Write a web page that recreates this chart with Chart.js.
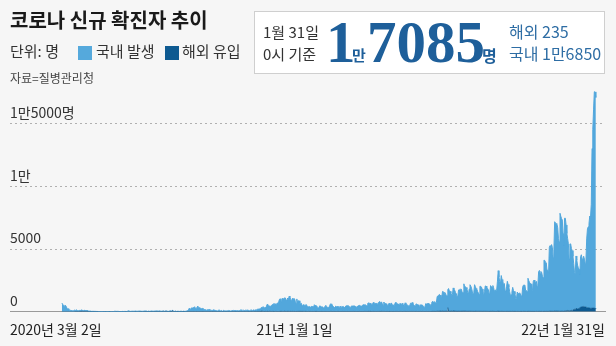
<!DOCTYPE html>
<html><head><meta charset="utf-8">
<script src="https://cdn.jsdelivr.net/npm/chart.js@4.4.0/dist/chart.umd.min.js"></script>
<style>
html,body{margin:0;padding:0;background:#f6f6f6;}
#wrap{position:relative;width:616px;height:346px;overflow:hidden;background:#f6f6f6;font-family:"Noto Sans CJK KR","Noto Sans",sans-serif;}
canvas{position:absolute;left:0;top:0;}
.t{position:absolute;white-space:nowrap;line-height:1;}
.sq{position:absolute;width:14px;height:14px;}
#box{position:absolute;left:254px;top:11px;width:351px;height:63px;box-sizing:border-box;border:1px solid #cfcfcf;background:#fff;}
.big{font-family:"Liberation Serif","DejaVu Serif",serif;font-weight:bold;color:#1e5f9a;font-size:59px;}
</style></head>
<body><div id="wrap">
<canvas id="c" width="616" height="346"></canvas>
<div class="t" style="left:10px;top:10px;font-size:20px;font-weight:bold;color:#1a1a1a;">코로나 신규 확진자 추이</div>
<div class="t" style="left:10px;top:43px;font-size:15px;color:#333;">단위: 명</div>
<div class="sq" style="left:78px;top:46px;background:#55a9dc;"></div>
<div class="t" style="left:96px;top:43px;font-size:15px;color:#333;">국내 발생</div>
<div class="sq" style="left:165px;top:46px;background:#0e5a91;"></div>
<div class="t" style="left:182px;top:43px;font-size:15px;color:#333;">해외 유입</div>
<div class="t" style="left:10px;top:72px;font-size:12px;color:#444;">자료=질병관리청</div>
<div id="box"></div>
<div class="t" style="left:263px;top:24px;font-size:15px;color:#333;">1월 31일</div>
<div class="t" style="left:263px;top:46px;font-size:15px;color:#333;">0시 기준</div>
<div class="t big" style="left:326px;top:13px;">1</div>
<div class="t" style="left:352px;top:47px;font-size:15px;font-weight:bold;color:#1e5f9a;">만</div>
<div class="t big" style="left:367px;top:13px;">7085</div>
<div class="t" style="left:482px;top:47px;font-size:16px;font-weight:bold;color:#1e5f9a;">명</div>
<div class="t" style="left:509px;top:23px;font-size:16px;color:#2e6da4;">해외 235</div>
<div class="t" style="left:509px;top:45px;font-size:16px;color:#2e6da4;">국내 1만6850</div>
</div>
<script>
// Domestic daily new cases (국내 발생), 2020-03-02 .. 2022-01-31
const d2020_03 = [686,600,516,438,518,483,367,248,131,242,114,110,107,76,74,84,93,140,75,130,80,45,55,70,70,60,100,60,45,80];
const d2020_04 = [65,53,50,60,55,30,30,35,25,15,18,20,15,17,17,14,15,12,3,9,5,8,5,3,6,4,7,5,6,2];
const d2020_05 = [5,2,5,3,1,0,2,10,16,32,33,23,24,26,24,15,9,10,11,29,10,17,19,20,15,16,37,77,55,35,24];
const d2020_06 = [31,33,44,36,35,44,53,34,33,47,41,50,42,27,29,34,31,46,40,53,38,10,35,41,20,25,37,41,24,32];
const d2020_07 = [36,44,52,36,43,24,24,33,39,36,21,11,21,14,15,28,21,21,13,8,14,21,25,13,27,13,9,10,20,9,14];
const d2020_08 = [20,11,15,15,24,14,9,23,28,19,27,47,47,85,155,267,188,235,283,276,315,315,387,258,264,307,434,359,308,283,238];
const d2020_09 = [222,253,189,186,158,152,108,120,144,144,161,126,99,98,91,105,145,109,100,74,59,51,99,110,95,52,73,40,23,101];
const d2020_10 = [67,54,51,52,59,60,100,54,46,60,46,66,84,71,90,36,56,75,57,45,71,105,139,61,46,101,72,78,108,103,113];
const d2020_11 = [101,88,62,101,99,117,71,118,112,72,113,128,162,176,179,193,202,245,293,320,361,302,255,320,363,553,525,486,413,414];
const d2020_12 = [420,493,516,600,566,615,594,574,662,671,673,928,1002,682,848,1054,993,1036,1053,1071,903,837,1059,955,1216,1104,938,787,1014,1029,942];
const d2021_01 = [1001,806,641,985,692,840,838,641,613,638,419,513,537,499,483,560,497,373,361,384,374,324,414,374,413,332,537,469,454,432,336];
const d2021_02 = [290,321,451,436,351,376,357,272,287,426,487,390,355,316,332,440,597,598,534,436,398,316,331,427,384,387,396,332];
const d2021_03 = [332,430,331,406,378,400,327,307,429,456,446,469,444,364,345,346,451,427,443,433,440,396,331,415,411,478,482,470,368,431,491];
const d2021_04 = [533,534,519,536,452,458,643,671,648,649,583,571,524,706,676,651,637,652,510,526,714,773,753,626,753,622,488,744,658,645];
const d2021_05 = [604,587,466,525,650,505,555,682,549,436,492,495,693,724,660,589,602,505,632,623,538,650,566,507,492,682,610,567,511,458,410];
const d2021_06 = [434,657,660,672,719,532,465,430,581,587,547,533,433,379,521,522,525,482,409,342,377,627,588,619,649,610,595,485,569,741];
const d2021_07 = [795,733,765,711,684,712,1167,1227,1275,1324,1262,1063,1111,1549,1551,1486,1410,1400,1196,1215,1454,1776,1576,1581,1438,1251,1320,1823,1625,1653,1481];
const d2021_08 = [1394,1167,1159,1673,1727,1661,1776,1677,1440,1476,2145,1934,1930,1886,1769,1512,1325,1760,2102,2008,1839,1590,1379,1474,2122,1965,1801,1752,1581,1445,1334];
const d2021_09 = [1984,1987,1926,1771,1455,1336,1558,2014,2014,1858,1834,1726,1398,1468,2043,1978,1903,2048,1877,1576,1702,1698,1690,2393,3222,2740,2345,2259,2850,2527];
const d2021_10 = [2449,2060,2222,1649,1545,1999,2395,2145,1929,1564,1266,1321,1559,1906,1658,1589,1388,1023,1050,1545,1417,1409,1486,1397,1237,1163,1928,2077,2092,2072,1656];
const d2021_11 = [1660,1562,2634,2448,2311,2218,2198,1732,1689,2399,2493,2342,2299,2386,1983,2101,3158,3258,3008,3174,3089,2803,2672,4080,4055,3910,3865,3279,3279,3000];
const d2021_12 = [5078,5215,4895,5303,5081,4287,4900,7102,7045,6962,6921,6634,5761,5522,7800,7574,7379,7258,6197,5264,7390,7388,6838,6160,5740,5331,4131,5314,5317,4925,4781];
const d2022_01 = [4255,3653,2929,2844,4174,3916,3507,3261,3116,2745,4008,4162,3793,3767,4003,3794,3479,3701,5465,6273,6447,6709,7340,7233,8291,12712,14208,15796,17252,17248,16850];

// Imported daily cases (해외 유입)
const o2020_03 = [0,0,0,0,0,0,0,0,0,0,0,0,0,0,0,0,0,12,12,17,18,19,21,30,34,31,46,45,33,45];
const o2020_04 = [36,36,36,34,26,17,17,18,14,12,12,12,10,10,10,8,7,6,5,4,4,3,3,3,4,6,3,9,3,2];
const o2020_05 = [4,4,8,5,2,2,2,2,2,2,2,4,2,3,3,4,4,5,2,3,2,3,4,5,1,3,3,2,3,4,3];
const o2020_06 = [4,5,5,3,4,7,4,4,5,3,4,6,7,10,5,3,12,13,9,14,10,7,11,10,8,14,14,21,18,11];
const o2020_07 = [15,10,11,27,18,24,20,30,11,9,14,33,41,19,24,33,39,18,21,18,31,42,34,28,86,45,16,18,28,9,22];
const o2020_08 = [11,19,8,18,19,19,11,20,8,9,7,7,9,18,11,12,9,11,14,12,9,17,10,8,16,13,7,12,15,16,10];
const o2020_09 = [13,14,6,12,10,15,11,16,12,11,15,10,22,11,15,8,8,17,10,8,11,10,11,15,19,9,22,10,15,12];
const o2020_10 = [10,9,24,12,14,15,14,15,8,12,12,31,18,13,20,11,17,16,19,13,18,16,16,16,15,18,16,25,17,11,14];
const o2020_11 = [23,9,13,17,26,28,18,25,14,28,33,15,29,29,29,30,28,68,50,43,25,28,16,29,19,30,44,18,37,24];
const o2020_12 = [31,18,24,29,17,16,21,20,24,11,16,22,28,36,32,24,21,26,44,26,23,32,33,30,24,28,32,21,31,21,25];
const o2021_01 = [26,18,16,35,23,29,32,33,28,27,32,24,25,25,30,20,23,16,25,20,27,22,17,18,24,17,22,28,15,26,19];
const o2021_02 = [15,15,16,15,19,17,15,16,16,18,17,13,7,10,11,17,24,23,27,12,18,16,25,13,12,19,19,23];
const o2021_03 = [12,14,13,18,20,16,19,19,17,14,19,19,15,18,17,17,18,18,20,19,16,19,15,13,19,16,23,12,16,16,15];
const o2021_04 = [18,23,24,22,21,20,25,29,23,28,31,16,18,25,22,22,21,20,22,23,21,24,32,18,32,22,24,25,22,16];
const o2021_05 = [23,19,22,16,26,20,19,19,15,27,19,16,22,23,21,21,17,23,22,23,23,16,19,23,24,25,19,20,22,22,20];
const o2021_06 = [25,20,21,23,25,24,20,24,21,24,18,23,19,20,24,18,20,25,20,15,18,18,22,15,19,24,19,16,26,20];
const o2021_07 = [31,29,29,32,27,34,45,48,41,54,62,37,39,66,49,50,45,54,56,63,330,66,54,48,49,67,45,73,49,57,58];
const o2021_08 = [48,51,43,52,49,43,47,52,52,61,78,53,60,44,47,44,47,45,50,42,41,38,39,35,33,47,40,41,38,42,38];
const o2021_09 = [40,38,35,33,35,39,39,36,35,34,31,29,35,29,37,30,40,39,32,28,27,22,26,41,51,31,38,30,35,37];
const o2021_10 = [37,26,26,24,30,29,32,31,24,30,31,26,25,34,26,29,32,27,23,26,23,32,22,26,29,27,24,34,32,32,30];
const o2021_11 = [25,27,33,34,33,30,26,26,26,26,27,26,25,33,23,23,29,34,26,31,31,24,27,35,33,28,36,31,30,32];
const o2021_12 = [45,51,49,49,47,38,54,73,57,60,56,55,56,45,50,48,56,56,39,54,66,67,81,73,102,87,76,95,90,110,94];
const o2022_01 = [160,180,200,180,270,210,210,250,260,260,380,380,400,400,420,400,380,370,340,330,320,300,290,280,280,300,310,300,290,280,235];

const yTickValues = [0, 5000, 10000, 15000];
const yTickLabels = ['0', '5000', '1만', '1만5000명'];
const xTickLabels = ['2020년 3월 2일', '21년 1월 1일', '22년 1월 31일'];
const jan1Index = 305; // day index of 2021-01-01 counted from 2020-03-02

const domestic = [].concat(d2020_03,d2020_04,d2020_05,d2020_06,d2020_07,d2020_08,d2020_09,d2020_10,d2020_11,d2020_12,
  d2021_01,d2021_02,d2021_03,d2021_04,d2021_05,d2021_06,d2021_07,d2021_08,d2021_09,d2021_10,d2021_11,d2021_12,d2022_01);
const overseas = [].concat(o2020_03,o2020_04,o2020_05,o2020_06,o2020_07,o2020_08,o2020_09,o2020_10,o2020_11,o2020_12,
  o2021_01,o2021_02,o2021_03,o2021_04,o2021_05,o2021_06,o2021_07,o2021_08,o2021_09,o2021_10,o2021_11,o2021_12,o2022_01);
const dayIndex = domestic.map((_, i) => i);

const xMin = -68, xMax = 712;
const FONT = '"Noto Sans CJK KR","Noto Sans",sans-serif';

new Chart(document.getElementById('c'), {
  type: 'line',
  data: {
    labels: dayIndex,
    datasets: [
      { label: '해외 유입', data: overseas, backgroundColor: '#0e5a91', borderColor: '#0e5a91', borderWidth: 0.5, fill: 'origin', pointRadius: 0 },
      { label: '국내 발생', data: domestic, backgroundColor: '#52a7dc', borderColor: '#52a7dc', borderWidth: 1, fill: '-1', pointRadius: 0 }
    ]
  },
  options: {
    responsive: false, animation: false, devicePixelRatio: 1,
    layout: { padding: { left: 10, right: 11, top: 86, bottom: 0 } },
    plugins: { legend: { display: false }, tooltip: { enabled: false } },
    elements: { line: { tension: 0 } },
    scales: {
      x: {
        type: 'linear', min: xMin, max: xMax,
        grid: { display: false },
        border: { display: true, color: '#9a9a9a', width: 1 },
        afterBuildTicks: a => { a.ticks = [xMin, jan1Index, xMax].map(v => ({ value: v })); },
        afterFit: a => { a.height = 34.3; },
        ticks: { align: 'inner', maxRotation: 0, autoSkip: false, padding: 2, color: '#222',
          font: { family: FONT, size: 14 }, callback: (v, i) => xTickLabels[i] }
      },
      y: {
        stacked: true, min: 0, max: 18000,
        afterBuildTicks: a => { a.ticks = yTickValues.map(v => ({ value: v })); },
        afterFit: a => { a.width = 0; },
        grid: { color: c => (c.tick && c.tick.value === 0) ? 'rgba(0,0,0,0)' : '#b0b0b0', drawTicks: false, lineWidth: 1 },
        border: { display: false, dash: [2, 3] },
        ticks: { mirror: true, padding: 0, labelOffset: -11, color: '#333',
          font: { family: FONT, size: 14 }, callback: (v, i) => yTickLabels[i] }
      }
    }
  }
});
</script>
</body></html>
